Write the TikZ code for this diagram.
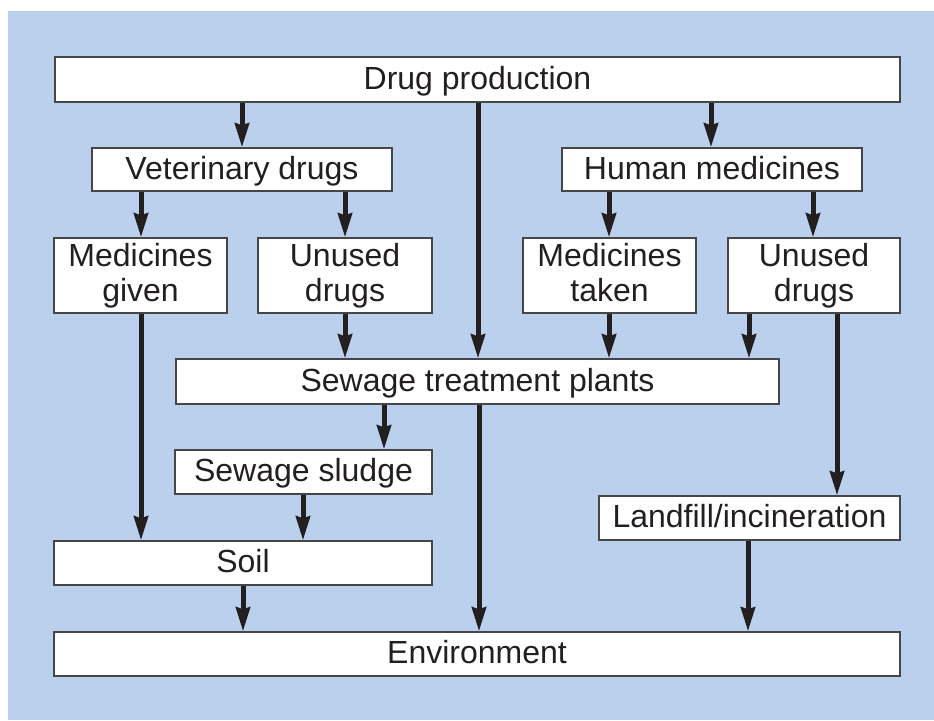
\documentclass[tikz,border=0pt]{standalone}
\usepackage{fontspec}
\setmainfont{Liberation Sans}
\usetikzlibrary{arrows.meta}
\definecolor{bg}{RGB}{187,208,236}
\definecolor{ink}{RGB}{35,31,32}
\definecolor{edge}{RGB}{70,70,72}
\begin{document}
\begin{tikzpicture}[x=1pt,y=-1pt,
 box/.style={draw=edge, line width=1.3pt, fill=white, rectangle, inner sep=0pt, align=center,
   font=\fontsize{32}{35}\selectfont, text=ink},
 onebox/.style={box, text height=23pt, text depth=4pt},
 flow/.style={draw=ink, line width=5pt, -{Stealth[length=24pt,width=14pt,inset=2pt]}}]
\useasboundingbox (0,0) rectangle (934,720);
\fill[bg] (8,11) rectangle (934,720);

\node[onebox, minimum width=845pt, minimum height=45pt] (dp) at (477.5,79.5) {Drug production};
\node[onebox, minimum width=300pt, minimum height=43pt] (vet) at (242,169.5) {Veterinary drugs};
\node[onebox, minimum width=300pt, minimum height=43pt] (hum) at (712,169.5) {Human medicines};
\node[box, minimum width=173pt, minimum height=75pt] (mg) at (140.5,275.5) {Medicines\\given};
\node[box, minimum width=174pt, minimum height=75pt] (ul) at (345,275.5) {Unused\\drugs};
\node[box, minimum width=173pt, minimum height=75pt] (mt) at (609.5,275.5) {Medicines\\taken\vphantom{g}};
\node[box, minimum width=172pt, minimum height=75pt] (ur) at (814,275.5) {Unused\\drugs};
\node[onebox, minimum width=603pt, minimum height=45pt] (stp) at (477.5,381.5) {Sewage treatment plants};
\node[onebox, minimum width=257pt, minimum height=44pt] (sl) at (303.5,472) {Sewage sludge};
\node[onebox, minimum width=301pt, minimum height=44pt] (lf) at (749.5,518) {Landfill/incineration};
\node[onebox, minimum width=378pt, minimum height=44pt] (soil) at (243,563) {Soil};
\node[onebox, minimum width=846pt, minimum height=44pt] (env) at (477,654) {Environment};

\draw[flow] (242,0 |- dp.south) -- (242,0 |- vet.north);
\draw[flow] (711,0 |- dp.south) -- (711,0 |- hum.north);
\draw[flow] (478,0 |- dp.south) -- (478,0 |- stp.north);
\draw[flow] (141,0 |- vet.south) -- (141,0 |- mg.north);
\draw[flow] (345,0 |- vet.south) -- (345,0 |- ul.north);
\draw[flow] (609,0 |- hum.south) -- (609,0 |- mt.north);
\draw[flow] (813,0 |- hum.south) -- (813,0 |- ur.north);
\draw[flow] (345,0 |- ul.south) -- (345,0 |- stp.north);
\draw[flow] (609,0 |- mt.south) -- (609,0 |- stp.north);
\draw[flow] (749,0 |- ur.south) -- (749,0 |- stp.north);
\draw[flow] (837,0 |- ur.south) -- (837,0 |- lf.north);
\draw[flow] (141,0 |- mg.south) -- (141,0 |- soil.north);
\draw[flow] (384,0 |- stp.south) -- (384,0 |- sl.north);
\draw[flow] (303,0 |- sl.south) -- (303,0 |- soil.north);
\draw[flow] (479,0 |- stp.south) -- (479,0 |- env.north);
\draw[flow] (243,0 |- soil.south) -- (243,0 |- env.north);
\draw[flow] (748,0 |- lf.south) -- (748,0 |- env.north);
\end{tikzpicture}
\end{document}
